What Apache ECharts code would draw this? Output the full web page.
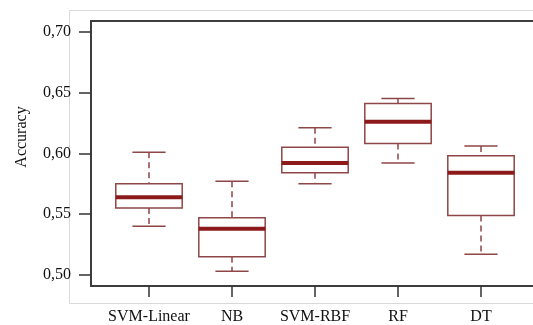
<!DOCTYPE html>
<html>
<head>
<meta charset="utf-8">
<script src="https://cdn.jsdelivr.net/npm/echarts@6/dist/echarts.min.js"></script>
<style>
  html, body { margin: 0; padding: 0; background: #fff; }
  #chart { width: 533px; height: 325px; }
</style>
</head>
<body>
<div id="chart"></div>
<script>
// accuracy of each classifier
const categories = ['SVM-Linear', 'NB', 'SVM-RBF', 'RF', 'DT'];
const lowWhisker = [0.540, 0.503, 0.575, 0.592, 0.517];
const q1 = [0.555, 0.515, 0.584, 0.608, 0.549];
const median = [0.564, 0.538, 0.592, 0.626, 0.584];
const q3 = [0.575, 0.547, 0.605, 0.641, 0.598];
const highWhisker = [0.601, 0.577, 0.621, 0.645, 0.606];
const yTicks = [0.50, 0.55, 0.60, 0.65, 0.70];

const boxData = categories.map((c, i) => [i, lowWhisker[i], q1[i], median[i], q3[i], highWhisker[i]]);

const boxColor = '#8e4646';
const medianColor = '#8c1a1a';
const frameLine = { show: true, lineStyle: { color: '#3d3d3d', width: 2 } };

function renderBox(params, api) {
    const i = api.value(0);
    const band = api.size([1, 0])[0];
    const half = band * 0.4;
    const capHalf = half / 2;
    const pLow = api.coord([i, api.value(1)]);
    const pQ1 = api.coord([i, api.value(2)]);
    const pMed = api.coord([i, api.value(3)]);
    const pQ3 = api.coord([i, api.value(4)]);
    const pHigh = api.coord([i, api.value(5)]);
    const x = pMed[0];
    const solid = { stroke: boxColor, lineWidth: 1.5, fill: null };
    const dashed = { stroke: boxColor, lineWidth: 1.5, lineDash: [6, 4], fill: null };
    return {
        type: 'group',
        children: [
            { type: 'line', shape: { x1: x, y1: pHigh[1], x2: x, y2: pQ3[1] }, style: dashed },
            { type: 'line', shape: { x1: x, y1: pQ1[1], x2: x, y2: pLow[1] }, style: dashed },
            { type: 'line', shape: { x1: x - capHalf, y1: pHigh[1], x2: x + capHalf, y2: pHigh[1] }, style: solid },
            { type: 'line', shape: { x1: x - capHalf, y1: pLow[1], x2: x + capHalf, y2: pLow[1] }, style: solid },
            { type: 'rect', shape: { x: x - half, y: pQ3[1], width: half * 2, height: pQ1[1] - pQ3[1] }, style: { stroke: boxColor, lineWidth: 1.5, fill: '#fff' } },
            { type: 'line', shape: { x1: x - half, y1: pMed[1], x2: x + half, y2: pMed[1] }, style: { stroke: medianColor, lineWidth: 4 } }
        ]
    };
}

const option = {
    backgroundColor: '#fff',
    animation: false,
    graphic: [
        {
            type: 'rect',
            z: -10,
            shape: { x: 69.5, y: 10.5, width: 480, height: 293 },
            style: { fill: null, stroke: '#d9d9d9', lineWidth: 1 }
        },
        {
            type: 'text',
            x: 22,
            y: 137,
            rotation: Math.PI / 2,
            style: {
                text: 'Accuracy',
                fontFamily: 'Liberation Serif',
                fontSize: 16,
                fill: '#111',
                align: 'center',
                verticalAlign: 'middle'
            }
        }
    ],
    grid: [
        // frame: left, top and bottom lines only
        { left: 91, top: 21, right: 0, bottom: 39 },
        // boxes
        { left: 107.5, top: 31.7, right: 10.5, bottom: 50 }
    ],
    xAxis: [
        { gridIndex: 0, type: 'value', position: 'bottom', axisLine: frameLine, axisTick: { show: false }, axisLabel: { show: false }, splitLine: { show: false } },
        {
            gridIndex: 1,
            type: 'category',
            data: categories,
            offset: 11,
            axisLine: { show: false },
            axisTick: { show: true, interval: 0, alignWithLabel: true, length: 11, lineStyle: { color: '#333', width: 1.5 } },
            axisLabel: { interval: 0, margin: 23, color: '#111', fontFamily: 'Liberation Serif', fontSize: 16 },
            splitLine: { show: false }
        },
        { gridIndex: 0, type: 'value', position: 'top', axisLine: frameLine, axisTick: { show: false }, axisLabel: { show: false }, splitLine: { show: false } }
    ],
    yAxis: [
        { gridIndex: 0, type: 'value', position: 'left', axisLine: frameLine, axisTick: { show: false }, axisLabel: { show: false }, splitLine: { show: false } },
        {
            gridIndex: 1,
            type: 'value',
            min: yTicks[0],
            max: yTicks[yTicks.length - 1],
            interval: 0.05,
            offset: 16.5,
            axisLine: { show: false },
            axisTick: { show: true, length: 12, lineStyle: { color: '#333', width: 1.5 } },
            axisLabel: {
                margin: 20,
                color: '#111',
                fontFamily: 'Liberation Serif',
                fontSize: 16,
                formatter: v => v.toFixed(2).replace('.', ',')
            },
            splitLine: { show: false }
        }
    ],
    series: [
        {
            type: 'custom',
            xAxisIndex: 1,
            yAxisIndex: 1,
            renderItem: renderBox,
            encode: { x: 0, y: [1, 2, 3, 4, 5] },
            data: boxData
        }
    ]
};

const myChart = echarts.init(document.getElementById('chart'));
myChart.setOption(option);
</script>
</body>
</html>
